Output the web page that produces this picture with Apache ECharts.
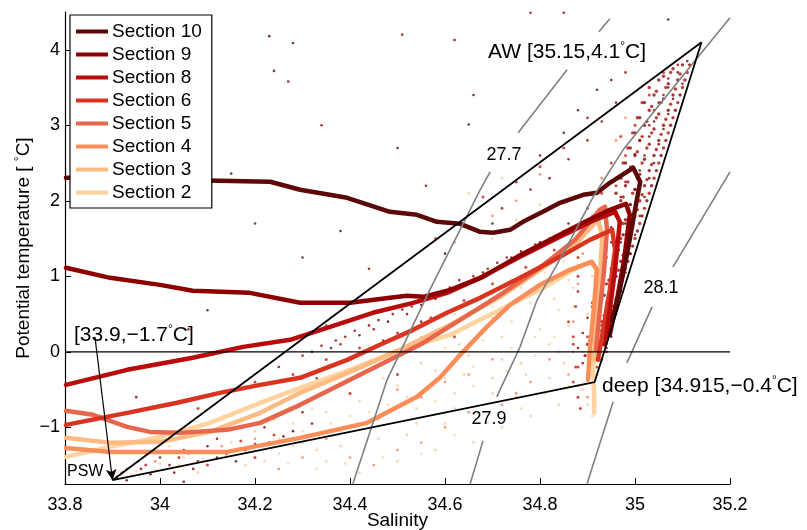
<!DOCTYPE html>
<html><head><meta charset="utf-8">
<script src="https://cdn.jsdelivr.net/npm/echarts@6/dist/echarts.min.js"></script>
<style>html,body{margin:0;padding:0;background:#fff}#c{width:807px;height:530px}</style>
</head><body><div id="c"></div>
<script>
// ---------- data ----------
var sectionNames = ['Section 10','Section 9','Section 8','Section 6','Section 5','Section 4','Section 3','Section 2'];
var sectionColors = ['#5c0808','#8e0000','#b80c0c','#d8341f','#e8674c','#fb8d58','#fdbb84','#fdd3a0'];
var xTicks = [33.8,34,34.2,34.4,34.6,34.8,35,35.2];
var yTicks = [-1,0,1,2,3,4];

var sec10 = [[33.802,2.305],[34.232,2.252],[34.295,2.146],[34.394,2.040],[34.484,1.854],[34.541,1.815],[34.583,1.722],[34.632,1.695],[34.674,1.589],[34.701,1.576],[34.737,1.616],[34.764,1.722],[34.806,1.854],[34.842,1.974],[34.891,2.079],[34.920,2.106],[34.947,2.238],[34.996,2.437],[35.011,2.252],[35.000,1.881],[34.985,1.351],[34.968,0.821],[34.952,0.424]];
var sec9 = [[33.802,1.113],[33.895,0.980],[34.000,0.887],[34.069,0.808],[34.189,0.781],[34.295,0.649],[34.400,0.649],[34.484,0.715],[34.520,0.742],[34.554,0.728],[34.611,0.821],[34.680,0.993],[34.752,1.258],[34.821,1.483],[34.895,1.722],[34.947,1.881],[34.981,1.960],[34.989,1.815],[34.977,1.219],[34.962,0.689],[34.947,0.225]];
var sec8 = [[33.802,-0.437],[33.931,-0.238],[34.069,-0.079],[34.175,0.066],[34.274,0.159],[34.358,0.331],[34.448,0.517],[34.533,0.649],[34.604,0.781],[34.674,0.980],[34.758,1.258],[34.842,1.523],[34.916,1.748],[34.958,1.854],[34.968,1.722],[34.958,1.086],[34.947,0.556],[34.937,0.093]];
var sec6 = [[33.802,-0.967],[33.931,-0.808],[34.036,-0.675],[34.126,-0.543],[34.211,-0.437],[34.295,-0.344],[34.394,-0.106],[34.463,0.093],[34.533,0.291],[34.604,0.517],[34.674,0.715],[34.758,0.980],[34.842,1.258],[34.905,1.483],[34.952,1.616],[34.958,1.351],[34.947,0.821],[34.933,0.291],[34.922,-0.106]];
var sec5 = [[33.802,-0.781],[33.859,-0.834],[33.931,-0.993],[33.979,-1.060],[34.042,-1.073],[34.141,-1.033],[34.211,-0.940],[34.295,-0.702],[34.379,-0.437],[34.463,-0.172],[34.547,0.093],[34.632,0.424],[34.716,0.755],[34.800,1.113],[34.874,1.483],[34.926,1.881],[34.937,1.921],[34.941,1.616],[34.935,1.086],[34.926,0.556],[34.918,0.026]];
var sec4 = [[33.802,-1.272],[33.895,-1.325],[34.000,-1.325],[34.141,-1.325],[34.295,-1.139],[34.436,-0.940],[34.541,-0.596],[34.589,-0.344],[34.632,-0.040],[34.688,0.331],[34.737,0.623],[34.800,0.887],[34.863,1.086],[34.909,1.192],[34.920,1.086],[34.913,0.556],[34.905,0.026],[34.901,-0.371]];
var sec3 = [[33.802,-1.139],[33.895,-1.205],[34.000,-1.192],[34.105,-1.060],[34.211,-0.808],[34.295,-0.543],[34.400,-0.265],[34.505,0.026],[34.611,0.358],[34.716,0.728],[34.800,1.086],[34.874,1.417],[34.922,1.748],[34.931,1.550],[34.926,0.954],[34.920,0.424],[34.914,-0.106]];
var sec2 = [[33.802,-1.391],[33.895,-1.258],[34.000,-1.126],[34.105,-0.940],[34.211,-0.675],[34.295,-0.477],[34.400,-0.238],[34.505,0.026],[34.611,0.225],[34.716,0.556],[34.800,0.821],[34.863,1.060],[34.905,1.192],[34.918,1.113],[34.918,0.689],[34.914,0.159],[34.912,-0.238],[34.914,-0.570],[34.914,-0.808]];

var dots10 = [[35.11,3.85],[35.09,3.70],[35.10,3.55],[35.07,3.50],[35.08,3.35],[35.05,3.30],[35.07,3.15],[35.04,3.05],[35.06,2.95],[35.03,2.85],[35.05,2.75],[35.02,2.60],[35.04,2.50],[35.01,2.40],[35.03,2.30],[35.00,2.15],[35.02,2.05],[34.99,1.95],[35.01,1.80],[34.98,1.70],[35.00,1.55],[34.97,1.45],[34.99,1.30],[34.96,1.20],[34.98,1.05],[34.95,0.95],[34.97,0.80],[34.94,0.65],[34.96,0.50],[34.93,0.35],[34.95,0.20],[34.94,0.05],
 [34.23,4.18],[34.28,4.09],[34.24,3.72],[34.27,3.58],[34.15,2.36],[34.62,4.13],[34.66,3.40],[34.65,3.01],[34.92,3.47],[35.07,4.40],[34.50,2.70],[34.38,1.60],[34.30,1.25],[34.10,0.55],[34.60,1.30],[34.70,1.70],[34.80,2.60],[34.85,2.90],[34.88,3.20],[34.95,3.60],
 [34.36,0.05],[34.42,0.22],[34.48,0.40],[34.55,0.62],[34.62,0.85],[34.68,1.05],[34.74,1.25],[34.80,1.45],[34.86,1.70],[34.90,1.90],
 [33.93,-1.70],[33.98,-1.62],[34.02,-1.50],[34.07,-1.55],[34.12,-1.40],[34.18,-1.30],[34.23,-1.20],[34.28,-1.05],[34.00,-1.40],[34.10,-1.25],[34.16,-1.45],[34.05,-1.72]];
var dots9 = [[35.09,3.80],[35.07,3.62],[35.06,3.40],[35.04,3.20],[35.03,3.00],[35.01,2.80],[35.00,2.62],[34.99,2.45],[34.98,2.25],[34.97,2.05],[34.96,1.85],[34.95,1.65],[34.95,1.45],[34.94,1.25],[34.93,1.05],[34.92,0.85],[34.91,0.65],[34.90,0.45],[34.89,0.25],[34.88,0.05],[34.89,-0.15],[34.90,-0.30],
 [34.96,3.30],[34.93,3.05],[34.90,2.80],[34.86,2.55],[34.82,2.30],[34.78,2.15],[34.72,1.90],[34.98,3.70],[35.02,3.95],[34.85,4.49],[34.78,4.49],[34.51,4.20],[34.34,3.00],[34.20,1.70],[34.44,1.10],[34.56,2.20],[34.06,0.30],[33.95,-0.60],[34.25,-0.20],[34.33,-0.35],
 [34.30,-0.05],[34.38,0.10],[34.45,0.30],[34.52,0.50],[34.58,0.70],[34.65,0.92],[34.72,1.12],[34.78,1.32],[34.84,1.55],[34.40,-0.10],[34.47,0.15],[34.55,0.40],
 [33.91,-1.65],[33.96,-1.55],[34.03,-1.60],[34.08,-1.45],[34.14,-1.35],[34.20,-1.22],[34.26,-1.12],[34.32,-0.95],[34.05,-1.30],[34.12,-1.15],[34.22,-1.00],[34.30,-0.80],
 [34.32,0.00],[34.34,0.08],[34.37,0.15],[34.39,0.20],[34.41,0.28],[34.44,0.35],[34.46,0.42],[34.49,0.50],[34.51,0.56],[34.53,0.60],[34.56,0.70],[34.59,0.78],[34.61,0.85],[34.63,0.95],[34.66,1.00],[34.69,1.10],[34.71,1.18],[34.73,1.25],[34.76,1.33],[34.79,1.42],[34.82,1.50],[34.85,1.60]];
var dotsRidge = [[35.115,3.8],[35.10,3.8],[35.08,3.75],[35.105,3.6],[35.09,3.6],[35.07,3.55],[35.05,3.6],
 [35.095,3.4],[35.08,3.4],[35.06,3.35],[35.04,3.4],[35.02,3.3],[35.085,3.2],[35.07,3.2],[35.05,3.15],[35.03,3.2],[35.01,3.1],
 [35.075,3.0],[35.06,3.0],[35.04,2.95],[35.02,3.0],[35.0,2.9],[35.065,2.8],[35.05,2.8],[35.03,2.75],[35.01,2.8],[34.99,2.7],
 [35.055,2.6],[35.04,2.6],[35.02,2.55],[35.0,2.6],[34.98,2.5],[35.045,2.4],[35.03,2.4],[35.01,2.35],[34.99,2.4],[34.97,2.3],
 [35.035,2.2],[35.02,2.2],[35.0,2.15],[34.98,2.2],[34.96,2.1],[35.025,2.0],[35.01,2.0],[34.99,1.95],[34.97,2.0],
 [35.015,1.8],[35.0,1.8],[34.98,1.75],[34.96,1.8],[35.005,1.6],[34.99,1.6],[34.975,1.55],[34.995,1.4],[34.98,1.4],[34.965,1.35],
 [34.985,1.2],[34.97,1.2],[34.955,1.15],[34.975,1.0],[34.96,1.0],[34.945,0.95],[34.965,0.8],[34.95,0.8],[34.935,0.75],
 [34.955,0.6],[34.94,0.6],[34.925,0.55],[34.945,0.4],[34.93,0.4],[34.915,0.35],[34.935,0.2],[34.92,0.2],[34.905,0.15],[34.925,0.0],[34.91,0.0],[34.895,-0.05]];
var dotsRidge2 = [[35.11,3.7],[35.095,3.68],[35.075,3.7],[35.06,3.65],
 [35.10,3.5],[35.085,3.48],[35.065,3.5],[35.045,3.45],[35.03,3.5],
 [35.09,3.3],[35.075,3.28],[35.055,3.3],[35.035,3.25],[35.015,3.3],
 [35.08,3.1],[35.065,3.08],[35.045,3.1],[35.025,3.05],[35.005,3.1],
 [35.07,2.9],[35.055,2.88],[35.035,2.9],[35.015,2.85],[34.995,2.9],
 [35.06,2.7],[35.045,2.68],[35.025,2.7],[35.005,2.65],[34.985,2.7],
 [35.05,2.5],[35.035,2.48],[35.015,2.5],[34.995,2.45],[34.975,2.5],
 [35.04,2.3],[35.025,2.28],[35.005,2.3],[34.985,2.25],
 [35.03,2.1],[35.015,2.08],[34.995,2.1],[34.975,2.05],
 [35.02,1.9],[35.005,1.88],[34.985,1.9],[35.01,1.7],[34.995,1.68],[34.975,1.7],
 [35.0,1.5],[34.985,1.48],[34.97,1.5],[34.99,1.3],[34.975,1.28],[34.96,1.3],
 [34.98,1.1],[34.965,1.08],[34.95,1.1],[34.97,0.9],[34.955,0.88],[34.94,0.9],
 [34.96,0.7],[34.945,0.68],[34.93,0.7],[34.95,0.5],[34.935,0.48],[34.92,0.5],
 [34.94,0.3],[34.925,0.28],[34.91,0.3],[34.93,0.1],[34.915,0.08],[34.90,0.1]];
var dots6 = [[34.94,0.00],[34.93,-0.10],[34.92,-0.20],[34.91,-0.30],[34.90,0.20],[34.91,0.60],[34.92,1.00],[34.93,1.40],[34.94,1.80],[34.96,2.20],[34.98,2.60],[35.00,3.00],[35.03,3.40],[35.06,3.70],[34.88,-0.20],[34.87,0.10],[34.86,0.40],[34.88,0.80],[34.90,1.60],[34.93,2.10],[34.95,2.50],[34.97,2.85],
 [34.90,3.10],[34.85,2.70],[34.80,2.45],[34.75,2.25],[34.68,2.05],[34.58,1.50],[34.35,0.35],[34.20,-0.40],[34.08,-0.75],[34.00,-1.05],[34.15,-0.95],[34.40,-0.55],[34.50,-0.30],[34.62,0.20],
 [34.28,-0.30],[34.35,-0.10],[34.42,0.05],[34.50,0.25],[34.57,0.45],[34.64,0.68],[34.70,0.90],[34.77,1.12],[34.83,1.35],
 [33.92,-1.60],[33.97,-1.50],[34.04,-1.40],[34.10,-1.50],[34.17,-1.18],[34.24,-1.10],[34.20,-1.40],
 [34.88,-0.60],[34.87,-0.40],[34.875,-0.20],[34.87,0.20],[34.875,0.60],[34.88,1.00],[34.885,-0.75],[34.88,1.25]];
var dots4 = [[34.87,0.00],[34.87,0.40],[34.88,0.90],[34.89,1.30],[34.91,1.80],[34.93,2.30],[34.96,2.80],[34.98,3.10],[34.86,-0.30],[34.88,-0.45],[34.90,-0.60],
 [34.75,2.00],[34.70,1.80],[34.80,2.35],[34.62,1.45],[34.65,-0.30],[34.70,-0.10],[34.55,-0.60],[34.45,-0.90],[34.35,-1.15],[34.40,-1.40],[34.50,-1.30],[34.60,-1.00],[34.72,-0.70],[34.78,-0.40],[34.82,-0.10],[34.30,-1.40],[34.25,-1.55],[34.45,-1.50],[34.55,-1.20],[34.65,-0.80],[34.75,-0.55],[34.50,-0.50],[34.60,-0.40],
 [33.93,-1.55],[33.99,-1.45],[34.06,-1.35],[34.13,-1.25],[34.20,-1.15]];
var dots2 = [[34.20,-1.05],[34.28,-0.95],[34.35,-0.80],[34.42,-0.65],[34.50,-0.45],[34.58,-0.25],[34.65,-0.05],[34.72,0.20],[34.78,0.45],[34.83,0.70],[34.86,0.95],[34.88,1.15],
 [34.30,-1.20],[34.38,-1.05],[34.46,-0.90],[34.54,-0.75],[34.62,-0.55],[34.70,-0.35],[34.76,-0.15],[34.82,0.10],[34.86,0.35],
 [34.35,-1.45],[34.43,-1.30],[34.52,-1.10],[34.60,-0.95],[34.68,-0.80],[34.75,-0.60],[34.82,-0.35],[34.85,-0.15],
 [34.42,-1.60],[34.50,-1.45],[34.58,-1.30],[34.66,-1.20],[34.72,-1.00],[34.78,-0.85],[34.84,-0.70],
 [34.55,0.20],[34.62,0.50],[34.68,0.75],[34.74,0.95],[34.80,1.15],[34.84,1.30],[34.60,0.05],[34.70,0.45],
 [34.70,1.50],[34.75,1.75],[34.80,1.95],[34.72,2.30],[34.65,2.10],
 [34.90,-0.70],[34.91,-0.85],[34.89,-0.50],[34.89,0.00],[34.90,0.50],[34.91,1.00],[34.92,1.50],
 [33.90,-1.68],[33.95,-1.58],[34.00,-1.48],[34.05,-1.40],[34.10,-1.32],[34.15,-1.20],[34.08,-1.60],[34.18,-1.50],[34.25,-1.35],[34.02,-1.25],[33.97,-1.35],[34.12,-1.05],
 [34.24,-0.90],[34.32,-0.75],[34.40,-0.55],[34.47,-0.35],[34.55,-0.15],[34.63,0.10],[34.40,-0.85],[34.48,-0.70],[34.56,-0.50],[34.64,-0.30],[34.72,-0.10],[34.79,0.20],
 [34.38,-1.25],[34.46,-1.15],[34.54,-0.95],[34.62,-0.75],[34.70,-0.55],[34.77,-0.30],[34.84,0.00],[34.33,-1.30],[34.28,-1.25]];
var dots3 = [[34.25,-1.15],[34.30,-1.05],[34.36,-0.95],[34.44,-0.80],[34.52,-0.60],[34.60,-0.35],[34.66,-0.20],[34.74,0.05],[34.80,0.30],[34.84,0.55],
 [34.33,-1.55],[34.39,-1.48],[34.47,-1.40],[34.55,-1.35],[34.62,-1.10],[34.69,-0.95],[34.76,-0.75],[34.81,-0.55],[34.86,-0.45],
 [34.58,-0.65],[34.66,-0.45],[34.73,-0.25],[34.79,-0.05],[34.83,0.20],[34.87,0.60],[34.87,0.85],
 [34.64,0.30],[34.70,0.60],[34.76,0.85],[34.81,1.05],[34.85,1.20],[34.78,0.65],[34.74,0.40],[34.68,0.15],
 [33.94,-1.62],[33.99,-1.55],[34.04,-1.50],[34.09,-1.42],[34.14,-1.38],[34.19,-1.28],[34.22,-1.45],[34.27,-1.48],[34.31,-1.10]];

// density contours (segments, broken for labels)
var sig277 = [[34.406,-1.748],[34.442,-1.060],[34.478,-0.371],[34.568,0.821],[34.674,2.146],[34.695,2.384],null,[34.754,2.901],[34.857,3.735],null,[34.924,4.238],[34.947,4.411]];
var sig279 = [[34.653,-1.748],[34.680,-1.179],null,[34.709,-0.596],[34.758,0.066],[34.794,0.689],[34.853,1.351],[34.912,2.053],[34.975,2.675],[35.116,3.775],[35.2,4.424]];
var sig281 = [[34.899,-1.748],[34.954,-0.662],null,[34.983,-0.146],[35.036,0.596],null,[35.080,1.126],[35.2,2.384]];
// mixing triangle: PSW, AW, deep
var triangle = [[33.9,-1.7],[35.14,4.1],[34.915,-0.4],[33.9,-1.7]];
var zeroLine = [[33.8,0],[35.2,0]];
var arrowFrom = [33.863,0.2], arrowTo = [33.9,-1.7];

// ---------- chart ----------
var FONT = '"Liberation Sans", Arial, Helvetica, sans-serif';
var chart = echarts.init(document.getElementById('c'), null, {renderer:'canvas'});
var fmt = function(v){ var s = String(+(+v).toFixed(2)); return v < 0 ? '\u2212' + s.slice(1) : s; };
var sections = [sec10, sec9, sec8, sec6, sec5, sec4, sec3, sec2];
var series = [];
function dotSeries(data, color, size){
  return {type:'scatter', data:data, symbolSize:size||2.6, itemStyle:{color:color}, silent:true, z:1};
}
series.push(dotSeries(dots2, '#fdc794'));
series.push(dotSeries(dots3, '#fcd2a4'));
series.push(dotSeries(dots4, '#f47a50'));
series.push(dotSeries(dots6, '#c8200f', 3));
series.push(dotSeries(dotsRidge2, '#b01008', 3.4));
series.push(dotSeries(dotsRidge, '#8a0806', 3.4));
series.push(dotSeries(dots9, '#8e0000'));
series.push(dotSeries(dots10, '#5c0808'));
for (var i = sections.length - 1; i >= 0; i--) {
  series.push({type:'line', name:sectionNames[i], data:sections[i], showSymbol:false, symbol:'none',
    lineStyle:{color:sectionColors[i], width:4.5, cap:'round', join:'round'}, itemStyle:{color:sectionColors[i]}, z:2+(7-i)*0.01, silent:true});
}
[sig277, sig279, sig281].forEach(function(d){
  series.push({type:'line', data:d, showSymbol:false, symbol:'none', connectNulls:false,
    lineStyle:{color:'#808080', width:1.6}, z:3, silent:true});
});
series.push({type:'line', data:zeroLine, showSymbol:false, symbol:'none', lineStyle:{color:'#000', width:1.2}, z:4, silent:true});
series.push({type:'line', data:triangle, showSymbol:false, symbol:'none', lineStyle:{color:'#000', width:1.8}, z:4, silent:true,
  markLine:{silent:true, symbol:['none','arrow'], symbolSize:[8,11], label:{show:false},
    lineStyle:{color:'#000', width:1.2, type:'solid'}, data:[[{coord:arrowFrom},{coord:arrowTo}]]}});

var sup = {fontSize:12, verticalAlign:'top', lineHeight:22, fontFamily:FONT};
function txt(x, y, text, size, align, bg){
  return {type:'text', x:x, y:y, z:100, style:{text:text, fontSize:size, fontFamily:FONT, fill:'#000', align:align||'left', verticalAlign:'middle',
    backgroundColor:bg||null, rich:{sup:sup, n:{fontSize:size, fontFamily:FONT, lineHeight:22, verticalAlign:'middle'}}}};
}

chart.setOption({
  animation:false,
  backgroundColor:'#fff',
  grid:{left:65, right:77, top:12, bottom:46, containLabel:false, outerBoundsMode:'none'},
  xAxis:{type:'value', min:33.8, max:35.2,
    name:'Salinity', nameLocation:'middle', nameGap:27, nameMoveOverlap:false, nameTextStyle:{fontSize:19, fontFamily:FONT, color:'#000'},
    axisLine:{show:true, onZero:false, lineStyle:{color:'#000', width:1.2}},
    axisTick:{show:true, inside:true, length:6, customValues:xTicks, lineStyle:{color:'#000'}},
    axisLabel:{customValues:xTicks, formatter:fmt, fontSize:18, fontFamily:FONT, color:'#000', margin:12},
    splitLine:{show:false}},
  yAxis:{type:'value', min:-1.75, max:4.5,
    name:'Potential temperature [ {sup|°}C]', nameLocation:'middle', nameGap:32, nameRotate:90, nameMoveOverlap:false,
    nameTextStyle:{fontSize:19, fontFamily:FONT, color:'#000', rich:{sup:{fontSize:12, verticalAlign:'top', fontFamily:FONT}}},
    axisLine:{show:true, onZero:false, lineStyle:{color:'#000', width:1.2}},
    axisTick:{show:true, inside:true, length:6, customValues:yTicks, lineStyle:{color:'#000'}},
    axisLabel:{customValues:yTicks, formatter:fmt, fontSize:18, fontFamily:FONT, color:'#000', margin:5},
    splitLine:{show:false}},
  legend:{data:sectionNames, orient:'vertical', left:70, top:15, icon:'rect', itemWidth:32, itemHeight:4, itemGap:4,
    padding:[7,10,6,6], borderColor:'#000', borderWidth:1.2, backgroundColor:'#fff', selectedMode:false,
    textStyle:{fontSize:19, lineHeight:19, fontFamily:FONT, color:'#000', padding:[0,0,0,-1]}},
  series:series,
  graphic:[
    txt(488, 52, '{n|AW [35.15,4.1}{sup|°}{n|C]}', 21, 'left', '#fff'),
    txt(602, 386, '{n|deep [34.915,\u22120.4}{sup|°}{n|C]}', 21, 'left', '#fff'),
    txt(74, 335, '{n|[33.9,\u22121.7}{sup|°}{n|C]}', 21, 'left', null),
    txt(67, 472, 'PSW', 16, 'left', null),
    txt(504, 155, '27.7', 18, 'center', null),
    txt(489, 419, '27.9', 18, 'center', null),
    txt(661, 288, '28.1', 18, 'center', null)
  ]
});
</script></body></html>
